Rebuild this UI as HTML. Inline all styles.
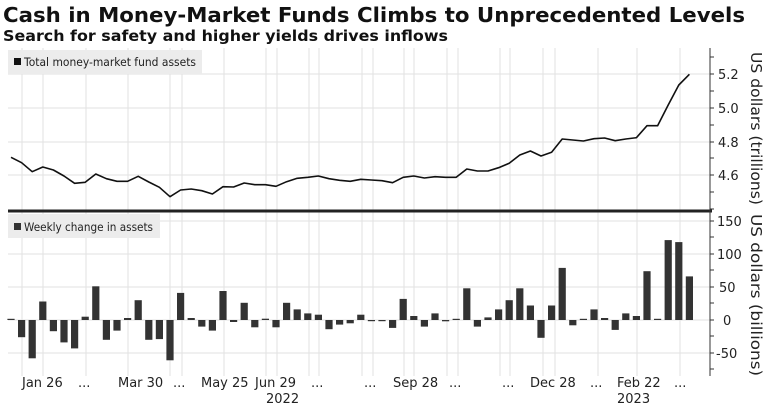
<!DOCTYPE html>
<html><head><meta charset="utf-8"><style>
body{margin:0;background:#fff;width:777px;height:409px;overflow:hidden;font-family:"DejaVu Sans","Liberation Sans",sans-serif}
</style></head><body>
<svg id="s" width="777" height="409" xmlns="http://www.w3.org/2000/svg" font-family="DejaVu Sans, Liberation Sans, sans-serif">
<text x="3" y="22" font-size="20" font-weight="bold" fill="#111" textLength="742" lengthAdjust="spacingAndGlyphs">Cash in Money-Market Funds Climbs to Unprecedented Levels</text>
<text x="3" y="41" font-size="15" font-weight="bold" fill="#111" textLength="445" lengthAdjust="spacingAndGlyphs">Search for safety and higher yields drives inflows</text>
<g id="grid" stroke="#e2e2e2" stroke-width="1"></g>
<rect x="8" y="50" width="194" height="24" fill="#ececec"/>
<rect x="14" y="58" width="7" height="7" fill="#111"/>
<text x="24" y="66" font-size="11.5" fill="#222" textLength="172" lengthAdjust="spacingAndGlyphs">Total money-market fund assets</text>
<rect x="8" y="214" width="152" height="24" fill="#ececec"/>
<rect x="14" y="223" width="7" height="7" fill="#333"/>
<text x="24" y="231" font-size="11.5" fill="#222" textLength="129" lengthAdjust="spacingAndGlyphs">Weekly change in assets</text>
<g id="bars" fill="#333"></g>
<polyline id="line" fill="none" stroke="#111" stroke-width="1.6" stroke-linejoin="round"/>
<line x1="8" y1="211" x2="712" y2="211" stroke="#222" stroke-width="3"/>
<line x1="710" y1="48" x2="710" y2="376" stroke="#333" stroke-width="1"/>
<g id="ticks" stroke="#333"></g>
<g font-size="13" fill="#222">
<text x="718" y="79">5.2</text><text x="718" y="113">5.0</text><text x="718" y="147">4.8</text><text x="718" y="180">4.6</text>
<text x="717" y="226">150</text><text x="717" y="259">100</text><text x="719" y="292">50</text><text x="723" y="325">0</text><text x="716" y="358">-50</text>
</g>
<text transform="translate(751,52) rotate(90)" font-size="15" fill="#222" textLength="153" lengthAdjust="spacingAndGlyphs">US dollars (trillions)</text>
<text transform="translate(751,214) rotate(90)" font-size="15" fill="#222" textLength="162" lengthAdjust="spacingAndGlyphs">US dollars (billions)</text>
<g font-size="13" fill="#222">
<text x="22" y="387">Jan 26</text><text x="78" y="387">...</text><text x="118" y="387">Mar 30</text><text x="173" y="387">...</text>
<text x="201" y="387">May 25</text><text x="255" y="387">Jun 29</text><text x="266" y="403">2022</text><text x="311" y="387">...</text>
<text x="364" y="387">...</text><text x="393" y="387">Sep 28</text><text x="449" y="387">...</text><text x="502" y="387">...</text>
<text x="530" y="387">Dec 28</text><text x="590" y="387">...</text><text x="617" y="387">Feb 22</text><text x="617" y="403">2023</text><text x="674" y="387">...</text>
</g>
</svg>
<script>
var NS="http://www.w3.org/2000/svg";
function el(p,t,a){var e=document.createElementNS(NS,t);for(var k in a)e.setAttribute(k,a[k]);document.getElementById(p).appendChild(e);}
var vx=[22,43,86,128,170,182,224,266,277,309,319,362,373,404,414,447,458,500,510,543,555,598,637,680];
vx.forEach(function(x){el("grid","line",{x1:x,y1:48,x2:x,y2:376});});
[74,108,142,175].forEach(function(y){el("grid","line",{x1:8,y1:y,x2:710,y2:y});});
[221,254,287,320,353].forEach(function(y){el("grid","line",{x1:8,y1:y,x2:710,y2:y});});
[57,74,91,108,125,142,158,175,192,209,221,237,254,270,287,303,320,336,353,369].forEach(function(y){el("ticks","line",{x1:710,y1:y,x2:714,y2:y});});
var b=[0,-26,-58,28,-17,-34,-43,5,51,-30,-16,3,30,-30,-29,-61,41,3,-10,-16,44,-3,26,-11,2,-11,26,16,10,8,-14,-7,-5,8,-1,-1,-12,
32,6,-10,10,-2,0.5,48,-10,4,16,30,48,22,-27,22,79,-8,0.5,16,3,-15,10,6,74,0.5,121,118,66];
b.forEach(function(v,i){var x=11+10.6*i;var h=Math.max(Math.abs(v)*0.66,1.2);var y=v>=0?320-h:320;el("bars","rect",{x:(x-3.6).toFixed(1),y:y.toFixed(1),width:7.2,height:h.toFixed(1)});});
var L=[157.3,162.7,171.7,167,170,176,183.3,182.3,174,178.7,181.3,181.3,176.3,182,187.3,196.7,190,189,190.7,194,186.7,187,183,184.7,184.7,186.3,181.7,178.3,177.3,176,178.7,180.3,181.3,179.3,180,180.7,182.7,
177.3,176,178,176.7,177.3,177.3,169,171,171,167.7,163.3,155,151,156,152.3,139,140,141,138.7,138,140.7,139,137.7,125.7,125.7,105,85,74.3];
document.getElementById("line").setAttribute("points",L.map(function(y,i){return (11+10.6*i).toFixed(1)+","+y;}).join(" "));
</script>
</body></html>
